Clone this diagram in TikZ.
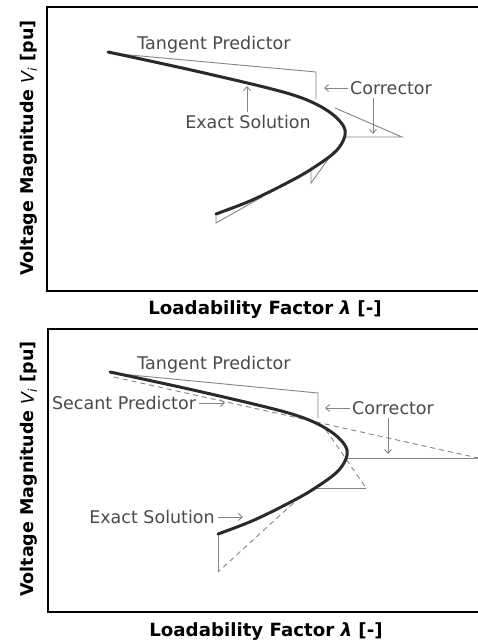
\documentclass[tikz,border=0pt]{standalone}
\usepackage{fontspec}
\setmainfont{DejaVu Sans}
\usetikzlibrary{arrows.meta}
\definecolor{txtgray}{HTML}{4A4A4A}
\definecolor{thingray}{HTML}{858585}
\definecolor{curvecol}{HTML}{2A2A2A}
\newcommand\pvcurvepath{plot[smooth, tension=0.55] coordinates {(108,52) (200,72) (290,94) (328,111) (345,130) (337,150) (310,170) (283,185) (250,201) (216,214)}}
\begin{document}
\begin{tikzpicture}[x=1pt,y=-1pt,
  frame/.style={line width=2pt,black},
  exact/.style={line width=3pt,curvecol,line cap=round},
  thin/.style={line width=0.9pt,thingray},
  thindash/.style={line width=0.9pt,thingray,dash pattern=on 5pt off 4pt},
  lbl/.style={font=\fontsize{17.5}{20}\selectfont,text=txtgray,inner sep=0pt},
  axlbl/.style={font=\fontsize{17.5}{20}\selectfont\bfseries,text=black,inner sep=0pt},
  xlbl/.style={font=\fontsize{18.2}{20}\selectfont\bfseries,text=black,inner sep=0pt},
  ptr/.style={line width=0.9pt,thingray,-{Straight Barb[length=4pt,width=7pt]}}]
\useasboundingbox (0,0) rectangle (478,642);
\clip (0,0) rectangle (478,642);
\fill[white] (0,0) rectangle (478,642);

% ===== top panel =====
\draw[frame] (490,7) -- (47,7) -- (47,291) -- (490,291);
\node[axlbl,rotate=90] (ya) at (29,148) {Voltage Magnitude {\mdseries\itshape V\textsubscript{i}} [pu]};
\node[xlbl] (xa) at (265,310) {Loadability Factor {\itshape λ} [-]};

\coordinate (a1) at (108,53);
\coordinate (a2) at (316,72);
\coordinate (a3) at (316,99);
\coordinate (b1) at (335,108);
\coordinate (b2) at (402,137);
\coordinate (b3) at (346,137);
\coordinate (c1) at (334,151);
\coordinate (c2) at (311,183);
\coordinate (c3) at (311,171);
\coordinate (d1) at (262,197);
\coordinate (d2) at (216,223);
\coordinate (d3) at (216,214);
\draw[thin] (a1) -- (a2) -- (a3);
\draw[thin] (b1) -- (b2) -- (b3);
\draw[thin] (c1) -- (c2) -- (c3);
\draw[thin] (d1) -- (d2) -- (d3);
\draw[exact] \pvcurvepath;

\node[lbl] (tp1) at (214,45) {Tangent Predictor};
\node[lbl] (co1) at (391,88) {Corrector};
\node[lbl] (es1) at (248,122) {Exact Solution};
\coordinate (co1a) at (324,88);
\coordinate (co1b) at (373,134);
\coordinate (es1a) at (247,86);
\draw[ptr] (co1.west) ++(-2,0) -- (co1a);
\draw[ptr] (co1.south -| co1b) ++(0,3) -- (co1b);
\draw[ptr] (es1.north -| es1a) ++(0,-3) -- (es1a);

% ===== bottom panel =====
\draw[frame] (490,329) -- (48,329) -- (48,612) -- (490,612);
\node[axlbl,rotate=90] (yb) at (29,469) {Voltage Magnitude {\mdseries\itshape V\textsubscript{i}} [pu]};
\node[xlbl] (xb) at (266,632) {Loadability Factor {\itshape λ} [-]};

\coordinate (e1) at (110,373);
\coordinate (e2) at (318,393);
\coordinate (e3) at (318,418);
\coordinate (f1) at (114,377);
\coordinate (f2) at (478,458);
\coordinate (f3) at (348,458);
\coordinate (g1) at (326,430);
\coordinate (g2) at (366,488);
\coordinate (g3) at (314,488);
\coordinate (h1) at (300,497);
\coordinate (h2) at (218,572);
\coordinate (h3) at (218,535);
\draw[thin] (e1) -- (e2) -- (e3);
\draw[thindash] (f1) -- (f2);
\draw[thin] (f2) -- (f3);
\draw[thindash] (g1) -- (g2);
\draw[thin] (g2) -- (g3);
\draw[thindash] (h1) -- (h2);
\draw[thin] (h2) -- (h3);
\begin{scope}[shift={(2,320)}]
\draw[exact] \pvcurvepath;
\end{scope}

\node[lbl] (tp2) at (214,365) {Tangent Predictor};
\node[lbl] (sp2) at (124,403) {Secant Predictor};
\node[lbl] (co2) at (393,408) {Corrector};
\node[lbl] (es2) at (152,517) {Exact Solution};
\coordinate (sp2a) at (225,403);
\coordinate (co2a) at (325,408);
\coordinate (co2b) at (388,454);
\coordinate (es2a) at (243,517);
\draw[ptr] (sp2.east) ++(3,0) -- (sp2a);
\draw[ptr] (co2.west) ++(-2,0) -- (co2a);
\draw[ptr] (co2.south -| co2b) ++(0,3) -- (co2b);
\draw[ptr] (es2.east) ++(3,0) -- (es2a);
\end{tikzpicture}
\end{document}
